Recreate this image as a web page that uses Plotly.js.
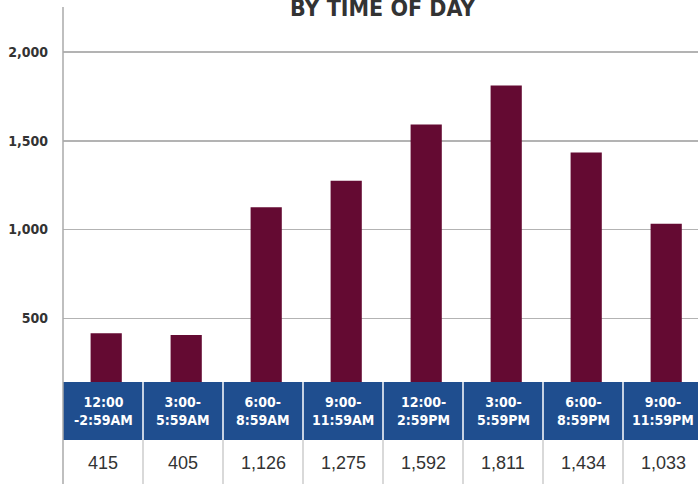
<!DOCTYPE html>
<html>
<head>
<meta charset="utf-8">
<script src="https://cdn.plot.ly/plotly-3.0.1.min.js"></script>
<style>html,body{margin:0;padding:0;background:#fff;}#chart{width:698px;height:484px;}</style>
</head>
<body>
<div id="chart"></div>
<script>
const categories = ["12:00<br>-2:59AM", "3:00-<br>5:59AM", "6:00-<br>8:59AM", "9:00-<br>11:59AM", "12:00-<br>2:59PM", "3:00-<br>5:59PM", "6:00-<br>8:59PM", "9:00-<br>11:59PM"];
const counts = [415, 405, 1126, 1275, 1592, 1811, 1434, 1033];
const yTicks = [500, 1000, 1500, 2000];
const yTickText = ["500", "1,000", "1,500", "2,000"];
const titleText = "BY TIME OF DAY";

const condensed = '"Liberation Sans Narrow", "DejaVu Sans Condensed", "Arial Narrow", sans-serif';
const bandTop = (484 - 382) / 477;
const bandBot = (484 - 440) / 477;

const shapes = [];
const annotations = [];
shapes.push({type: 'rect', xref: 'x', yref: 'paper', x0: -0.5, x1: 7.5, y0: bandBot, y1: bandTop,
  fillcolor: '#1f4e8f', line: {width: 0}, layer: 'above'});
shapes.push({type: 'rect', xref: 'x', yref: 'paper', x0: -0.5, x1: 7.5, y0: 0, y1: bandBot,
  fillcolor: '#ffffff', line: {width: 0}, layer: 'above'});
for (let i = 0; i < categories.length - 1; i++) {
  shapes.push({type: 'line', xref: 'x', yref: 'paper', x0: i + 0.5, x1: i + 0.5, y0: bandBot, y1: bandTop,
    line: {color: '#ffffff', width: 1.5}, layer: 'above'});
  shapes.push({type: 'line', xref: 'x', yref: 'paper', x0: i + 0.5, x1: i + 0.5, y0: 0, y1: bandBot,
    line: {color: '#cccccc', width: 1.5}, layer: 'above'});
}
shapes.push({type: 'line', xref: 'paper', yref: 'paper', x0: 0, x1: 0, y0: 0, y1: 1,
  line: {color: '#aaaaaa', width: 1.5}, layer: 'above'});

categories.forEach((c, i) => {
  annotations.push({xref: 'x', yref: 'paper', x: c, y: (bandTop + bandBot) / 2, text: c, showarrow: false,
    font: {family: condensed, size: 14, color: '#ffffff', weight: 'bold'}, align: 'center', yanchor: 'middle'});
  annotations.push({xref: 'x', yref: 'paper', x: c, y: (484 - 463) / 477, text: counts[i].toLocaleString('en-US'),
    showarrow: false, font: {family: 'Liberation Sans, Arial, sans-serif', size: 18, color: '#333333'}, yanchor: 'middle'});
});
annotations.push({xref: 'paper', yref: 'paper', x: (383 - 63) / 635, y: 1 - 16 / 477, text: titleText, showarrow: false,
  yanchor: 'bottom', xanchor: 'center', font: {family: condensed, size: 23, color: '#333333', weight: 'bold'}});

const trace = {
  type: 'bar', x: categories, y: counts, width: 0.39, offset: -0.155,
  marker: {color: '#640a32', line: {width: 0}}, hoverinfo: 'none'
};

const layout = {
  width: 698, height: 484,
  margin: {l: 63, r: 0, t: 7, b: 0, pad: 0},
  paper_bgcolor: '#ffffff', plot_bgcolor: '#ffffff',
  showlegend: false,
  xaxis: {type: 'category', range: [-0.5, 7.4375], showticklabels: false, showgrid: false, zeroline: false, ticks: '', showline: false},
  yaxis: {range: [-433.8, 2253.5], tickvals: yTicks, ticktext: yTickText, showgrid: true, gridcolor: '#b3b3b3', gridwidth: 1.5,
    zeroline: false, showline: false, ticks: '', ticklabelstandoff: 14,
    tickfont: {family: condensed, size: 14, color: '#333333', weight: 'bold'}},
  shapes: shapes,
  annotations: annotations
};

Plotly.newPlot('chart', [trace], layout, {staticPlot: true, displayModeBar: false});
</script>
</body>
</html>
